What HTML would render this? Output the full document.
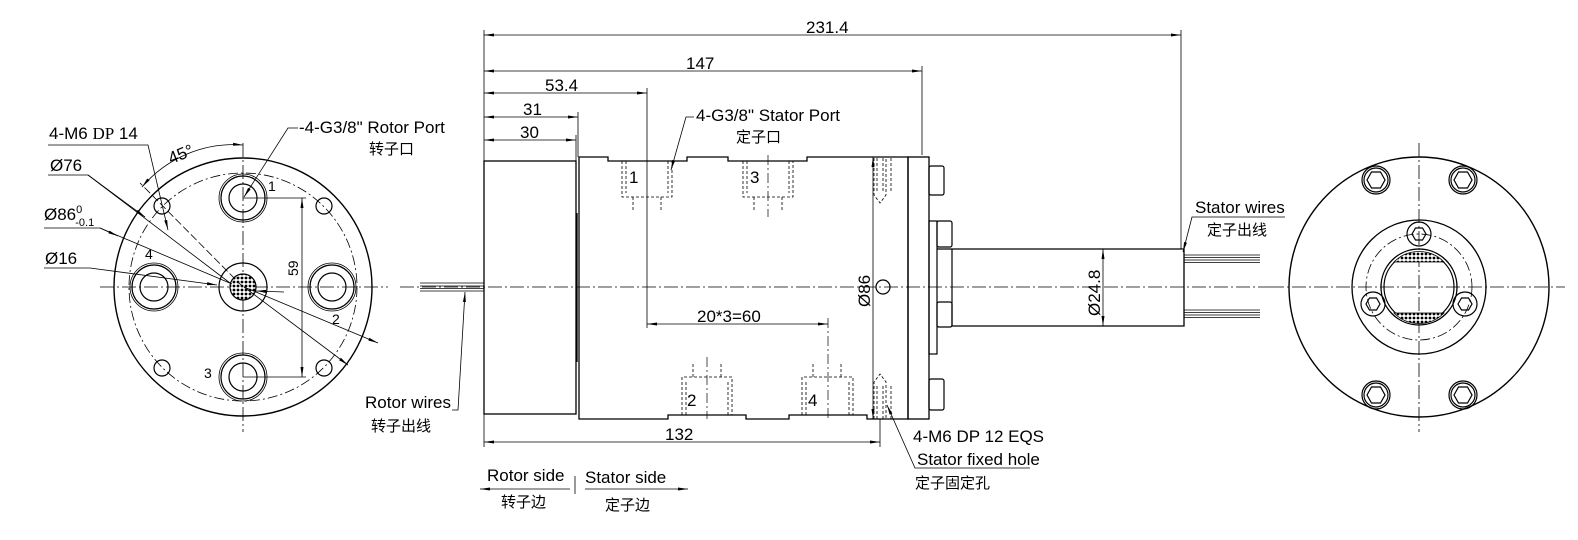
<!DOCTYPE html>
<html><head><meta charset="utf-8"><style>
html,body{margin:0;padding:0;background:#fff;width:1578px;height:540px;overflow:hidden}
svg{display:block}
text{font-family:"Liberation Sans","Noto Sans CJK SC",sans-serif;fill:#000}
.cn{font-family:"Liberation Sans","Noto Sans CJK SC",sans-serif;font-size:15px}
</style></head><body>
<svg width="1578" height="540" viewBox="0 0 1578 540" xmlns="http://www.w3.org/2000/svg">
<defs>
<marker id="a" viewBox="0 0 10 6" refX="10" refY="3" markerWidth="10" markerHeight="6" orient="auto-start-reverse" markerUnits="userSpaceOnUse"><path d="M0,1.5 L10,3 L0,4.5z" fill="#000"/></marker>
<pattern id="h" width="4" height="4" patternUnits="userSpaceOnUse"><rect width="4" height="4" fill="#fff"/><circle cx="2" cy="2" r="1.4" fill="#000"/></pattern>
</defs>
<g fill="none" stroke="#000" stroke-width="1.2">
<!-- LEFT VIEW -->
<line x1="100" y1="287" x2="388" y2="287" stroke-dasharray="14 3 2 3" stroke-width="0.8"/>
<line x1="243" y1="143" x2="243" y2="432" stroke-dasharray="14 3 2 3" stroke-width="0.8"/>
<circle cx="243" cy="287" r="129" stroke-width="1.4"/>
<circle cx="243" cy="287" r="114" stroke-dasharray="10 3 2 3" stroke-width="0.8"/>
<circle cx="243" cy="287" r="24"/>
<circle cx="243" cy="287" r="13" fill="url(#h)"/>
<g>
<circle cx="243" cy="198" r="14"/><circle cx="243" cy="198" r="22"/><circle cx="243" cy="198" r="24" stroke-width="0.8"/>
<circle cx="243" cy="377" r="14"/><circle cx="243" cy="377" r="22"/><circle cx="243" cy="377" r="24" stroke-width="0.8"/>
<circle cx="154" cy="287" r="14"/><circle cx="154" cy="287" r="22"/><circle cx="154" cy="287" r="24" stroke-width="0.8"/>
<circle cx="332" cy="287" r="14"/><circle cx="332" cy="287" r="22"/><circle cx="332" cy="287" r="24" stroke-width="0.8"/>
</g>
<circle cx="162" cy="206" r="8"/><circle cx="324" cy="206" r="8"/>
<circle cx="162" cy="368" r="8"/><circle cx="324" cy="368" r="8"/>
<line x1="243" y1="198" x2="306" y2="198" stroke-width="0.8"/>
<line x1="243" y1="377" x2="306" y2="377" stroke-width="0.8"/>
<line x1="302" y1="198" x2="302" y2="377" stroke-width="0.8" marker-start="url(#a)" marker-end="url(#a)"/>
<path d="M142,187 A120,120 0 0 1 243,145" stroke-width="0.8" marker-start="url(#a)" marker-end="url(#a)"/>
<line x1="243" y1="287" x2="140" y2="183" stroke-width="0.8" stroke-dasharray="8 3"/>
<polyline points="48,145 148,145 168,230" stroke-width="0.8" marker-end="url(#a)"/>
<polyline points="48,175 88,175 230,283" stroke-width="0.8"/>
<line x1="88" y1="175" x2="145" y2="217" stroke-width="0.8" marker-end="url(#a)"/>
<polyline points="44,228 100,228 232,284" stroke-width="0.8"/>
<line x1="100" y1="228" x2="118" y2="236" stroke-width="0.8" marker-end="url(#a)"/>
<polyline points="44,268 90,268 217,285" stroke-width="0.8" marker-end="url(#a)"/>
<line x1="244" y1="287" x2="378" y2="343" stroke-width="0.8" marker-end="url(#a)"/>
<line x1="244" y1="287" x2="348" y2="365" stroke-width="0.8" marker-end="url(#a)"/>
<line x1="284" y1="292" x2="256" y2="291" stroke-width="0.8" marker-end="url(#a)"/>
<polyline points="298,128 288,128 244,197" stroke-width="0.8" marker-end="url(#a)"/>

<!-- SIDE VIEW -->
<g stroke-width="0.8">
<line x1="420" y1="283" x2="484" y2="283"/><line x1="420" y1="286" x2="484" y2="286"/><line x1="420" y1="288.5" x2="484" y2="288.5"/><line x1="420" y1="291" x2="484" y2="291"/>
</g>
<line x1="400" y1="287" x2="1270" y2="287" stroke-dasharray="14 3 2 3" stroke-width="0.8"/>
<rect x="484" y="161" width="92" height="253" stroke-width="1.3"/>
<path d="M579,157 H608 V161 H687 V157 H728 V161 H807 V157 H908 V419 H867 V415 H789 V419 H746 V415 H668 V419 H579 Z" stroke-width="1.3"/>
<line x1="577" y1="213" x2="577" y2="362" stroke-width="1.3"/>
<rect x="908" y="157" width="21" height="262" stroke-width="1.3"/>
<rect x="929" y="166" width="15" height="29" rx="2"/>
<rect x="929" y="221" width="8" height="133"/>
<rect x="937" y="221" width="15" height="26" rx="2"/>
<rect x="937" y="302" width="15" height="25" rx="2"/>
<rect x="929" y="379" width="15" height="31" rx="2"/>
<path d="M937,249 H1184 V326 H952" stroke-width="1.3"/>
<line x1="952" y1="249" x2="952" y2="326"/>
<g stroke-width="0.8">
<line x1="1184" y1="255" x2="1260" y2="255"/><line x1="1184" y1="257.5" x2="1260" y2="257.5"/><line x1="1184" y1="260" x2="1260" y2="260"/><line x1="1184" y1="262.5" x2="1260" y2="262.5"/>
<line x1="1184" y1="310" x2="1260" y2="310"/><line x1="1184" y1="312.5" x2="1260" y2="312.5"/><line x1="1184" y1="315" x2="1260" y2="315"/><line x1="1184" y1="317.5" x2="1260" y2="317.5"/>
</g>
<line x1="1103" y1="249" x2="1103" y2="326" stroke-width="0.8" marker-start="url(#a)" marker-end="url(#a)"/>
<g stroke-width="0.8" stroke-dasharray="3 2">
<path d="M622,161 V197 H672 V161 M626,161 V193 M668,161 V193"/>
<path d="M633,197 V210 M661,197 V210"/>
<path d="M743,161 V197 H793 V161 M747,161 V193 M789,161 V193"/>
<path d="M754,197 V210 M782,197 V210"/>
<path d="M682,415 V377 H732 V415 M686,415 V381 M728,415 V381"/>
<path d="M693,377 V364 M721,377 V364"/>
<path d="M802,415 V377 H853 V415 M806,415 V381 M849,415 V381"/>
<path d="M813,377 V364 M841,377 V364"/>
<path d="M874,158 V195 L880,203 L886,195 V158 M877,158 V193 M883,158 V193 M891,158 V193"/>
<path d="M874,419 V382 L880,374 L886,382 V419 M877,419 V384 M883,419 V384 M891,419 V384"/>
</g>
<line x1="768" y1="155" x2="768" y2="217" stroke-dasharray="10 3 2 3" stroke-width="0.7"/>
<line x1="707" y1="357" x2="707" y2="419" stroke-dasharray="10 3 2 3" stroke-width="0.7"/>
<line x1="828" y1="318" x2="828" y2="419" stroke-dasharray="10 3 2 3" stroke-width="0.7"/>
<line x1="880" y1="419" x2="880" y2="447" stroke-width="0.8"/>
<line x1="647" y1="88" x2="647" y2="328" stroke-width="0.8"/>
<line x1="647" y1="324" x2="828" y2="324" stroke-width="0.8" marker-start="url(#a)" marker-end="url(#a)"/>
<line x1="873" y1="157" x2="873" y2="419" stroke-width="0.8" marker-start="url(#a)" marker-end="url(#a)"/>
<circle cx="883" cy="287" r="7"/>
<g stroke-width="0.8">
<line x1="484" y1="30" x2="484" y2="161"/>
<line x1="1181" y1="30" x2="1181" y2="249"/>
<line x1="922" y1="66" x2="922" y2="155"/>
<line x1="578" y1="112" x2="578" y2="157"/>
<line x1="576" y1="135" x2="576" y2="161"/>
<line x1="484" y1="35" x2="1181" y2="35" marker-start="url(#a)" marker-end="url(#a)"/>
<line x1="484" y1="71" x2="922" y2="71" marker-start="url(#a)" marker-end="url(#a)"/>
<line x1="484" y1="93" x2="647" y2="93" marker-start="url(#a)" marker-end="url(#a)"/>
<line x1="484" y1="117" x2="578" y2="117" marker-start="url(#a)" marker-end="url(#a)"/>
<line x1="484" y1="140" x2="576" y2="140" marker-start="url(#a)" marker-end="url(#a)"/>
<line x1="484" y1="414" x2="484" y2="447"/>
<line x1="484" y1="442" x2="880" y2="442" marker-start="url(#a)" marker-end="url(#a)"/>
<polyline points="694,117 686,117 671,170" marker-end="url(#a)"/>
<polyline points="452,410 458,410 465,292" marker-end="url(#a)"/>
<polyline points="1030,468 915,468 887,405" marker-end="url(#a)"/>
<polyline points="1285,217 1192,217 1183,252" marker-end="url(#a)"/>
<line x1="575" y1="476" x2="575" y2="494"/>
<line x1="570" y1="489" x2="480" y2="489" marker-end="url(#a)"/>
<line x1="585" y1="489" x2="688" y2="489" marker-end="url(#a)"/>
</g>

<!-- RIGHT VIEW -->
<line x1="1270" y1="287" x2="1565" y2="287" stroke-dasharray="14 3 2 3" stroke-width="0.8"/>
<line x1="1419" y1="143" x2="1419" y2="432" stroke-dasharray="14 3 2 3" stroke-width="0.8"/>
<circle cx="1419" cy="287" r="130" stroke-width="1.4"/>
<circle cx="1419" cy="287" r="67" stroke-width="1.3"/>
<circle cx="1419" cy="287" r="53" stroke-dasharray="10 3 2 3" stroke-width="0.8"/>
<circle cx="1419" cy="287" r="38" stroke-width="1.3"/>
<circle cx="1419" cy="287" r="35"/>
<path d="M1394,262 A35,35 0 0 1 1444,262 Z" fill="url(#h)" stroke-width="0.8"/>
<path d="M1394,313 A35,35 0 0 0 1444,313 Z" fill="url(#h)" stroke-width="0.8"/>
<g>
<circle cx="1376" cy="180" r="14"/><circle cx="1376" cy="180" r="12"/><polygon points="1367,180 1371.5,172 1380.5,172 1385,180 1380.5,188 1371.5,188"/>
<circle cx="1463" cy="180" r="14"/><circle cx="1463" cy="180" r="12"/><polygon points="1454,180 1458.5,172 1467.5,172 1472,180 1467.5,188 1458.5,188"/>
<circle cx="1376" cy="395" r="14"/><circle cx="1376" cy="395" r="12"/><polygon points="1367,395 1371.5,387 1380.5,387 1385,395 1380.5,403 1371.5,403"/>
<circle cx="1463" cy="395" r="14"/><circle cx="1463" cy="395" r="12"/><polygon points="1454,395 1458.5,387 1467.5,387 1472,395 1467.5,403 1458.5,403"/>
<circle cx="1419" cy="234" r="12"/><polygon points="1412,234 1415.5,228 1422.5,228 1426,234 1422.5,240 1415.5,240"/>
<circle cx="1373" cy="304" r="12"/><polygon points="1366,304 1369.5,298 1376.5,298 1380,304 1376.5,310 1369.5,310"/>
<circle cx="1465" cy="304" r="12"/><polygon points="1458,304 1461.5,298 1468.5,298 1472,304 1468.5,310 1461.5,310"/>
</g>
</g>

<!-- TEXT -->
<g font-size="17">
<text x="49" y="139">4-M6 <tspan font-family="Liberation Serif">DP</tspan>  14</text>
<text x="168" y="161" transform="rotate(-22 178 155)">45°</text>
<text x="50" y="171">Ø76</text>
<text x="44" y="220">Ø86<tspan font-size="11" dy="-7">0</tspan><tspan font-size="11" dx="-7" dy="13">-0.1</tspan></text>
<text x="45" y="264">Ø16</text>
<text x="299" y="133">-4-G3/8"  Rotor Port</text>
<text x="369" y="154" class="cn">转子口</text>
<text x="268" y="191" font-size="14">1</text>
<text x="145" y="259" font-size="14">4</text>
<text x="332" y="324" font-size="14">2</text>
<text x="204" y="378" font-size="14">3</text>
<text x="298" y="276" font-size="14" transform="rotate(-90 298 276)">59</text>
<text x="365" y="408">Rotor wires</text>
<text x="371" y="431" class="cn">转子出线</text>
<text x="806" y="33">231.4</text>
<text x="686" y="69">147</text>
<text x="545" y="91">53.4</text>
<text x="523" y="115">31</text>
<text x="520" y="138">30</text>
<text x="696" y="121">4-G3/8" Stator Port</text>
<text x="736" y="142" class="cn">定子口</text>
<text x="629" y="183">1</text>
<text x="750" y="183">3</text>
<text x="687" y="406">2</text>
<text x="808" y="406">4</text>
<text x="697" y="322">20*3=60</text>
<text x="870" y="307" transform="rotate(-90 870 307)">Ø86</text>
<text x="1100" y="316" transform="rotate(-90 1100 316)">Ø24.8</text>
<text x="665" y="440">132</text>
<text x="913" y="442">4-M6 DP 12 EQS</text>
<text x="917" y="465">Stator fixed hole</text>
<text x="915" y="488" class="cn">定子固定孔</text>
<text x="1195" y="213">Stator wires</text>
<text x="1207" y="235" class="cn">定子出线</text>
<text x="487" y="481">Rotor side</text>
<text x="585" y="483">Stator side</text>
<text x="501" y="507" class="cn">转子边</text>
<text x="605" y="510" class="cn">定子边</text>
</g>
</svg>
</body></html>
